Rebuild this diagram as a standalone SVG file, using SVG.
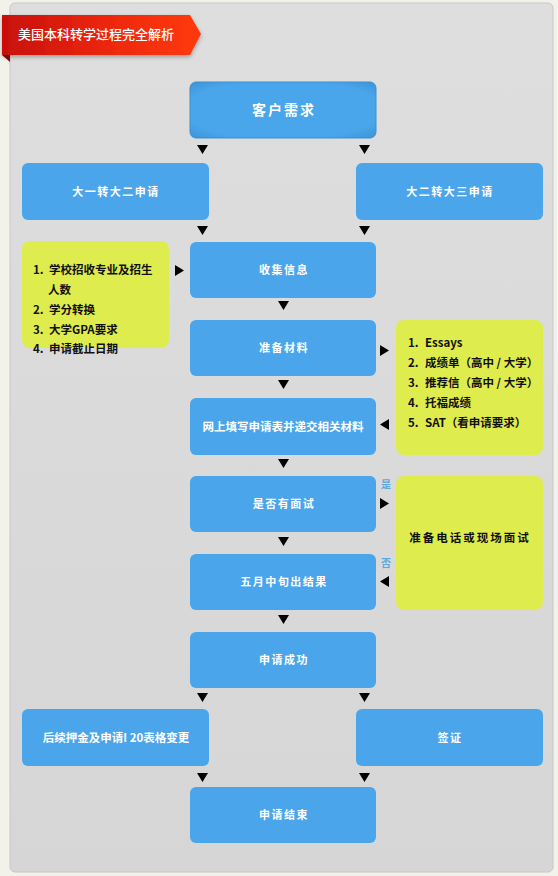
<svg xmlns="http://www.w3.org/2000/svg" width="558" height="876" viewBox="0 0 558 876">
<defs>
<linearGradient id="panel" x1="0" y1="0" x2="0" y2="1"><stop offset="0" stop-color="#dedede"/><stop offset="1" stop-color="#d6d6d6"/></linearGradient>
<linearGradient id="ribbon" x1="0" y1="0" x2="1" y2="0"><stop offset="0" stop-color="#c8100c"/><stop offset="0.6" stop-color="#f02a10"/><stop offset="1" stop-color="#ff3a10"/></linearGradient>
<radialGradient id="topbox" cx="0.5" cy="0.5" r="0.75"><stop offset="0.7" stop-color="#4aa6ea"/><stop offset="1" stop-color="#3a8fd2"/></radialGradient>
<filter id="sh" x="-10%" y="-10%" width="120%" height="130%"><feDropShadow dx="0" dy="2" stdDeviation="2" flood-color="#000" flood-opacity="0.3"/></filter>
<style>
.b{fill:#4ba5eb}
.y{fill:#dfec4d}
.wt{font-family:"Noto Sans CJK SC","Liberation Sans",sans-serif;font-size:11px;font-weight:bold;fill:#fff;text-anchor:middle;letter-spacing:1.5px}
.big{font-size:14px;letter-spacing:2px}
.wt2{font-family:"Noto Sans CJK SC","Liberation Sans",sans-serif;font-size:11.5px;font-weight:bold;fill:#fff;text-anchor:middle}
.kt{font-family:"Noto Sans CJK SC","Liberation Sans",sans-serif;font-size:11.5px;font-weight:bold;fill:#111}
.ctr{text-anchor:middle;letter-spacing:2px}
.lb{font-family:"Noto Sans CJK SC","Liberation Sans",sans-serif;font-size:10px;font-weight:bold;fill:#5aa8e0;text-anchor:middle}
.ar{fill:#000}
</style>
</defs>
<rect width="558" height="876" fill="#f2f1ea"/>
<rect x="10" y="3" width="543" height="869" rx="5" fill="url(#panel)" stroke="#c8c8c8"/>
<g id="title">
<path d="M2,15 L190,15 L201,34 L190,55 L2,55 Z" fill="url(#ribbon)" filter="url(#sh)"/>
<path d="M2,55 L10,55 L10,62 Z" fill="#7a0a08"/>
<text x="18" y="39" font-family="'Noto Sans CJK SC','Liberation Sans',sans-serif" font-size="13px" font-weight="500" fill="#fff">美国本科转学过程完全解析</text>
</g>
<g id="connectors">
<path class="ar" d="M197,145 h11 l-5.5,9 z M359,145 h11 l-5.5,9 z"/>
<path class="ar" d="M197,226 h11 l-5.5,9 z M359,226 h11 l-5.5,9 z"/>
<path class="ar" d="M175,265 v11 l9,-5.5 z"/>
<path class="ar" d="M278,301 h11 l-5.5,9 z"/>
<path class="ar" d="M380,345 v11 l9,-5.5 z"/>
<path class="ar" d="M278,380 h11 l-5.5,9 z"/>
<path class="ar" d="M389,419 v11 l-9,-5.5 z"/>
<path class="ar" d="M278,459 h11 l-5.5,9 z"/>
<path class="ar" d="M380,498 v11 l9,-5.5 z"/>
<path class="ar" d="M278,537 h11 l-5.5,9 z"/>
<path class="ar" d="M389,576 v11 l-9,-5.5 z"/>
<path class="ar" d="M278,615 h11 l-5.5,9 z"/>
<path class="ar" d="M197,693 h11 l-5.5,9 z M359,693 h11 l-5.5,9 z"/>
<path class="ar" d="M197,773 h11 l-5.5,9 z M359,773 h11 l-5.5,9 z"/>
<text class="lb" x="386" y="488">是</text>
<text class="lb" x="386" y="567">否</text>
</g>
<g id="n-start"><rect x="190" y="82" width="186" height="56" rx="6" fill="url(#topbox)" stroke="#3d8fcf"/><text class="wt big" x="284" y="115">客户需求</text></g>
<g id="n-fresh"><rect class="b" x="22" y="163" width="187" height="57" rx="6"/><text class="wt" x="116" y="196">大一转大二申请</text></g>
<g id="n-soph"><rect class="b" x="356" y="163" width="187" height="57" rx="6"/><text class="wt" x="450" y="196">大二转大三申请</text></g>
<g id="n-collect"><rect class="b" x="190" y="242" width="186" height="56" rx="6"/><text class="wt" x="284" y="274">收集信息</text></g>
<g id="n-info"><rect class="y" x="22" y="241" width="147" height="107" rx="8"/>
<text class="kt" x="33" y="274">1.</text><text class="kt" x="49" y="274">学校招收专业及招生</text>
<text class="kt" x="48" y="294">人数</text>
<text class="kt" x="33" y="314">2.</text><text class="kt" x="49" y="314">学分转换</text>
<text class="kt" x="33" y="334">3.</text><text class="kt" x="49" y="334">大学GPA要求</text>
<text class="kt" x="33" y="353">4.</text><text class="kt" x="49" y="353">申请截止日期</text></g>
<g id="n-prep"><rect class="b" x="190" y="320" width="186" height="56" rx="6"/><text class="wt" x="284" y="352">准备材料</text></g>
<g id="n-materials"><rect class="y" x="396" y="320" width="147" height="135" rx="8"/>
<text class="kt" x="408" y="347">1.</text><text class="kt" x="425" y="347">Essays</text>
<text class="kt" x="408" y="367">2.</text><text class="kt" x="425" y="367">成绩单（高中 / 大学）</text>
<text class="kt" x="408" y="387">3.</text><text class="kt" x="425" y="387">推荐信（高中 / 大学）</text>
<text class="kt" x="408" y="407">4.</text><text class="kt" x="425" y="407">托福成绩</text>
<text class="kt" x="408" y="427">5.</text><text class="kt" x="425" y="427">SAT（看申请要求）</text></g>
<g id="n-online"><rect class="b" x="190" y="398" width="186" height="57" rx="6"/><text class="wt2" x="283" y="431">网上填写申请表并递交相关材料</text></g>
<g id="n-interview"><rect class="b" x="190" y="476" width="186" height="56" rx="6"/><text class="wt" x="284" y="508">是否有面试</text></g>
<g id="n-phone"><rect class="y" x="396" y="476" width="147" height="134" rx="8"/><text class="kt ctr" x="470" y="542">准备电话或现场面试</text></g>
<g id="n-result"><rect class="b" x="190" y="554" width="186" height="56" rx="6"/><text class="wt" x="284" y="586">五月中旬出结果</text></g>
<g id="n-success"><rect class="b" x="190" y="632" width="186" height="56" rx="6"/><text class="wt" x="284" y="664">申请成功</text></g>
<g id="n-deposit"><rect class="b" x="22" y="709" width="187" height="57" rx="6"/><text class="wt2" x="116" y="742">后续押金及申请I 20表格变更</text></g>
<g id="n-visa"><rect class="b" x="356" y="709" width="187" height="57" rx="6"/><text class="wt" x="450" y="742">签证</text></g>
<g id="n-end"><rect class="b" x="190" y="787" width="186" height="56" rx="6"/><text class="wt" x="284" y="819">申请结束</text></g>
</svg>
